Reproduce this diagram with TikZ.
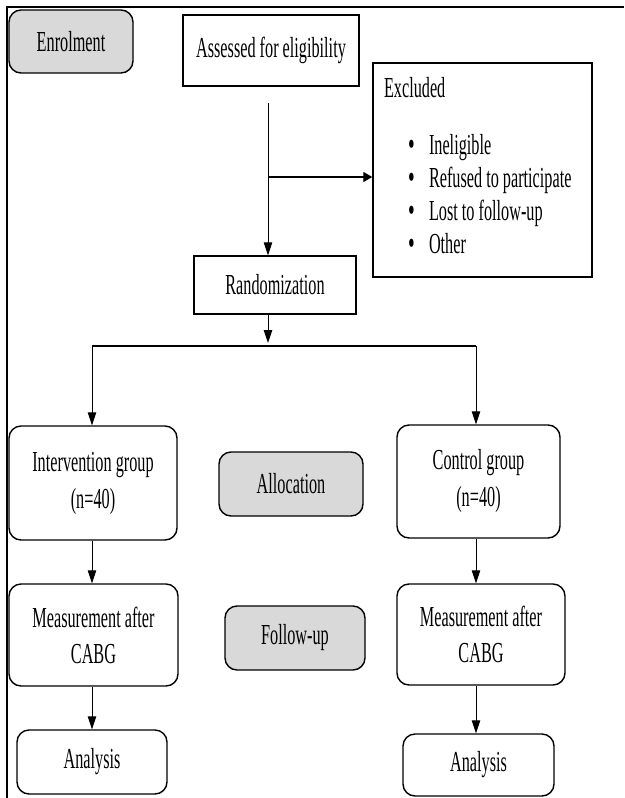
\documentclass[tikz,border=0pt]{standalone}
\usepackage{fontspec}
\setmainfont{Liberation Serif}[FakeStretch=0.56]
\usetikzlibrary{arrows.meta}
\definecolor{boxgray}{HTML}{D9D9D9}
\newcommand{\bulitem}[1]{\mbox{\hspace*{28pt}\makebox[21pt][l]{\smash{\raisebox{-1.5pt}{\fontsize{34}{33}\selectfont\textbullet}}}#1}}
\tikzset{
  every node/.style={font=\fontsize{29}{33}\selectfont, inner sep=4pt},
  sqbox/.style={draw, line width=1.4pt, rectangle, align=center},
  rbox/.style={draw, line width=1.4pt, rectangle, rounded corners=12pt, align=center},
  gbox/.style={rbox, fill=boxgray},
  arr/.style={line width=1pt, -{Triangle[length=13pt,width=8.5pt]}},
  harr/.style={line width=1.2pt, -{Triangle[length=9pt,width=10pt]}},
  conn/.style={line width=1.3pt},
  framel/.style={line width=1.5pt}
}
\begin{document}
\begin{tikzpicture}[x=1pt, y=-1pt]
\useasboundingbox (0,0) rectangle (624,798);
% frame
\coordinate (fbl) at (7,798);
\coordinate (ftl) at (7,7);
\coordinate (ftr) at (624,7);
\draw[framel] (fbl) -- (ftl) -- (ftr);

% nodes
\node[gbox, minimum width=124pt, minimum height=63pt] (enrol) at (71,41.5) {Enrolment};
\node[sqbox, minimum width=176pt, minimum height=71pt] (assess) at (271,50.5) {Assessed for eligibility};
\node[sqbox, minimum width=219pt, minimum height=214pt, text width=205pt, inner xsep=7pt, align=left] (excl) at (482.5,170)
  {\spaceskip=0pt\xspaceskip=0pt\relax
   \hspace*{4pt}Excluded\\[24pt]
   \bulitem{Ineligible}\\
   \bulitem{Refused to participate}\\
   \bulitem{Lost to follow-up}\\
   \bulitem{Other}\rule[-10pt]{0pt}{10pt}};
\node[sqbox, minimum width=162pt, minimum height=58pt] (rand) at (275,285) {Randomization};
\node[rbox, minimum width=168pt, minimum height=114pt] (interv) at (93,483) {Intervention group\\[4pt](n=40)};
\node[gbox, minimum width=144pt, minimum height=64pt] (alloc) at (291,484) {Allocation};
\node[rbox, minimum width=163pt, minimum height=113pt] (ctrl) at (478.5,481.5) {Control group\\[4pt](n=40)};
\node[rbox, minimum width=169pt, minimum height=102pt] (meas1) at (93.5,635) {Measurement after\\[3pt]CABG};
\node[gbox, minimum width=140pt, minimum height=64pt] (follow) at (295,638) {Follow-up};
\node[rbox, minimum width=168pt, minimum height=101pt] (meas2) at (481,634.5) {Measurement after\\[3pt]CABG};
\node[rbox, minimum width=150pt, minimum height=64pt] (anal1) at (92,762) {Analysis};
\node[rbox, minimum width=151pt, minimum height=62pt] (anal2) at (478.5,765) {Analysis};

% connectors
\coordinate (a1) at (268,103);
\coordinate (a2) at (268,177);
\coordinate (split) at (268,346);
\coordinate (sl) at (92,346);
\coordinate (sr) at (476,346);
\draw[arr] (a1) -- (a1 |- rand.north);
\draw[harr] (a2) -- (a2 -| excl.west);
\draw[arr] (a1 |- rand.south) -- ([yshift=3pt]split);
\draw[conn] (sl) -- (sr);
\draw[arr] (sl) -- (sl |- interv.north);
\draw[arr] (sr) -- (sr |- ctrl.north);
\draw[arr] (interv.south -| sl) -- (meas1.north -| sl);
\draw[arr] (meas1.south -| sl) -- (anal1.north -| sl);
\draw[arr] (ctrl.south -| sr) -- (meas2.north -| sr);
\draw[arr] (meas2.south -| sr) -- (anal2.north -| sr);
\end{tikzpicture}
\end{document}
